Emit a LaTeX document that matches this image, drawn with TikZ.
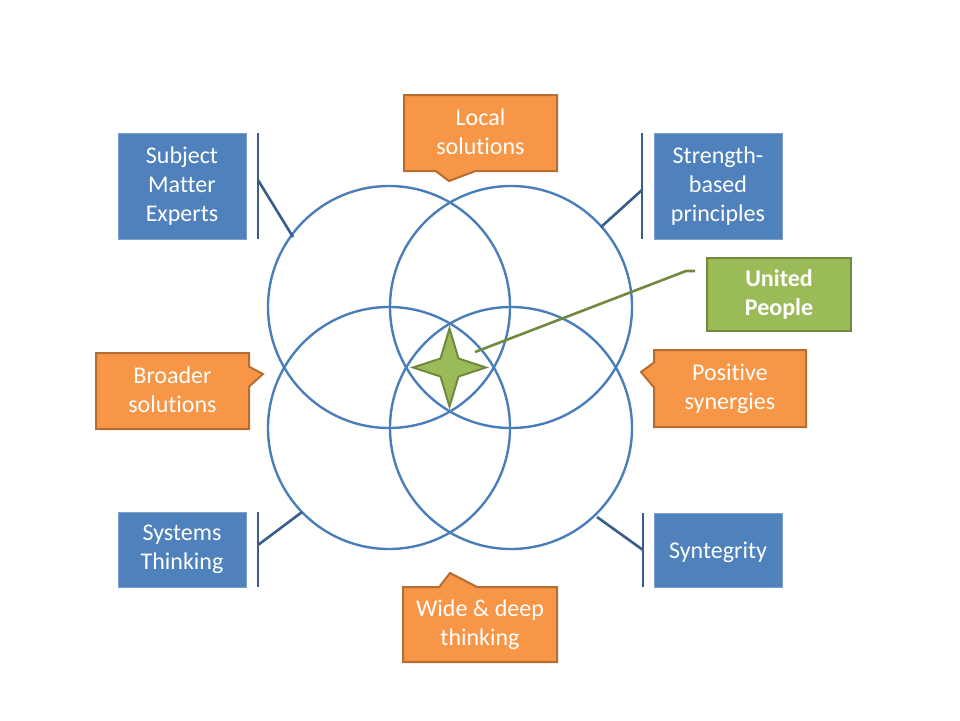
\documentclass[tikz,border=0pt]{standalone}
\usepackage{fontspec}
\setmainfont{Carlito}[Ligatures=NoCommon]
\usetikzlibrary{shapes.geometric,shapes.callouts}
\definecolor{boxblue}{HTML}{4F81BD}
\definecolor{lineblue}{HTML}{385D8A}
\definecolor{ringblue}{HTML}{4A7EBB}
\definecolor{orfill}{HTML}{F79646}
\definecolor{ordraw}{HTML}{B66D31}
\definecolor{grfill}{HTML}{9BBB59}
\definecolor{grdraw}{HTML}{71893F}
\newcommand\mystrutA{\rule{0pt}{20.5pt}}
\newcommand\mystrutB{\rule[-3.5pt]{0pt}{3.5pt}}
\begin{document}
\begin{tikzpicture}[x=1pt,y=-1pt,
  txt/.style={text=white,font=\fontsize{24}{29}\selectfont,align=center,inner sep=0pt,
              execute at begin node=\mystrutA,execute at end node=\mystrutB},
  bluebox/.style={txt,fill=boxblue,draw=boxblue!75!white,line width=0.8pt,minimum width=128pt},
  orbox/.style={txt,rectangle callout,fill=orfill,draw=ordraw,line width=2pt,minimum width=153pt,minimum height=76pt},
  ring/.style={draw=ringblue,line width=2.4pt},
  leader/.style={draw=lineblue,line width=2.6pt},
  greenline/.style={draw=grdraw,line width=2.6pt},
  starshape/.style={fill=grfill,draw=grdraw,line width=2pt,line join=miter}
]
\useasboundingbox (0,0) rectangle (960,720);

% circles
\coordinate (c1) at (389,307);
\coordinate (c2) at (511,307);
\coordinate (c3) at (389,428);
\coordinate (c4) at (511,428);
\foreach \c in {c1,c2,c3,c4} \draw[ring] (\c) circle[radius=121pt];

% star
\coordinate (star) at (449.5,367.5);
\draw[starshape,shift={(star)}] (0,-39) -- (9,-9) -- (36.5,0) -- (9,9) -- (0,39)
   -- (-9,9) -- (-36.5,0) -- (-9,-9) -- cycle;

% blue boxes
\node[bluebox,minimum height=106pt] (sme) at (182,186) {Subject\\Matter\\Experts};
\node[bluebox,minimum height=106pt] (sbp) at (718,186) {Strength-\\based\\principles};
\node[bluebox,minimum height=75pt] (sys) at (182,549.5) {Systems\\Thinking};
\node[bluebox,minimum height=74pt] (syn) at (718,550) {Syntegrity};

% line callouts
\coordinate (smeA) at (258,133); \coordinate (smeB) at (258,239);
\coordinate (smeK) at (258,180); \coordinate (smeE) at (293,237);
\draw[leader] (smeA) -- (smeB);
\draw[leader] (smeK) -- (smeE);

\coordinate (sbpA) at (642,133); \coordinate (sbpB) at (642,239);
\coordinate (sbpK) at (642,190); \coordinate (sbpE) at (601,227);
\draw[leader] (sbpA) -- (sbpB);
\draw[leader] (sbpK) -- (sbpE);

\coordinate (sysA) at (258,512); \coordinate (sysB) at (258,587);
\coordinate (sysK) at (258,545); \coordinate (sysE) at (302,512);
\draw[leader] (sysA) -- (sysB);
\draw[leader] (sysK) -- (sysE);

\coordinate (synA) at (643,513); \coordinate (synB) at (643,587);
\coordinate (synK) at (643,550); \coordinate (synE) at (597,517);
\draw[leader] (synA) -- (synB);
\draw[leader] (synK) -- (synE);

% orange callouts
\node[orbox,callout absolute pointer={(449,181)},callout pointer width=40pt] (loc) at (480.5,133) {Local\\solutions};
\node[orbox,callout absolute pointer={(263,374)},callout pointer width=20pt] (bro) at (172.5,391) {Broader\\solutions};
\node[orbox,minimum width=152pt,minimum height=77pt,callout absolute pointer={(641,372)},callout pointer width=25pt] (pos) at (730,388.5) {Positive\\synergies};
\node[orbox,minimum width=154pt,minimum height=75pt,callout absolute pointer={(450,573)},callout pointer width=38pt] (wid) at (480,624.5) {Wide \& deep\\thinking};

% united people
\node[txt,font=\fontsize{24}{29}\selectfont\bfseries,fill=grfill,draw=grdraw,line width=2pt,
      minimum width=144pt,minimum height=73pt] (up) at (779,294.5) {United\\People};
\coordinate (upS) at (475,352);
\coordinate (upK) at (686,271);
\coordinate (upE) at (695,271);
\draw[greenline] (upS) -- (upK) -- (upE);
\end{tikzpicture}
\end{document}
